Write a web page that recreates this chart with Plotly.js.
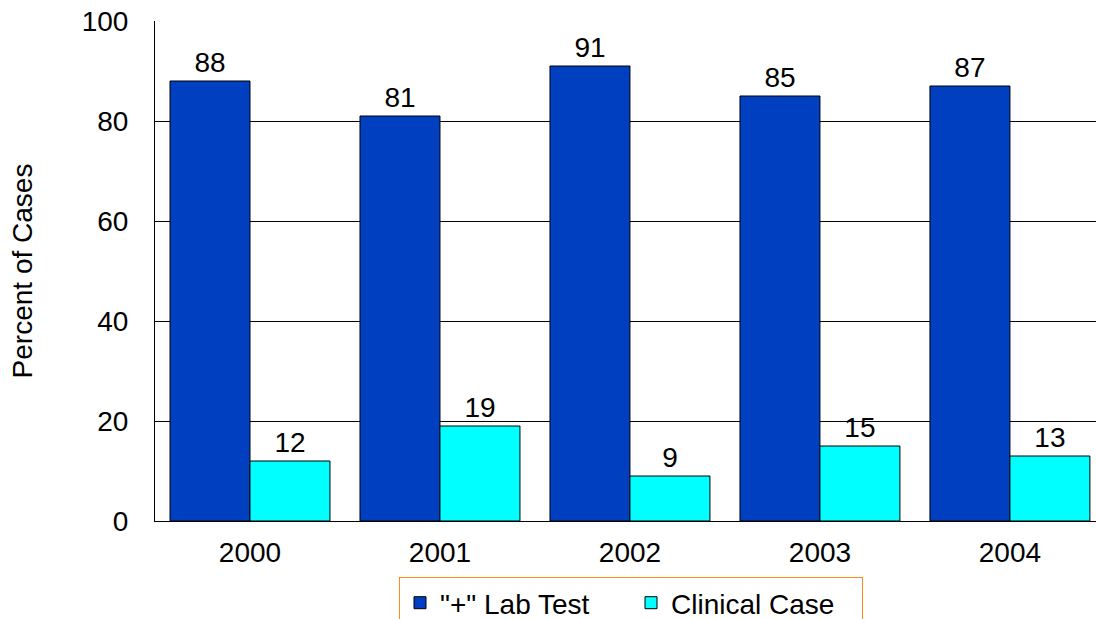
<!DOCTYPE html>
<html>
<head>
<meta charset="utf-8">
<script src="https://cdn.plot.ly/plotly-3.0.1.min.js"></script>
<style>
  html, body { margin: 0; padding: 0; overflow: hidden; background: #fff; }
</style>
</head>
<body>
<div id="chart"></div>
<script>
const years = ['2000', '2001', '2002', '2003', '2004'];
const labTest = [88, 81, 91, 85, 87];
const clinicalCase = [12, 19, 9, 15, 13];
const yTicks = [0, 20, 40, 60, 80, 100];

const font = 'Liberation Sans, Arial, sans-serif';

function barTrace(name, values, color) {
    return {
        type: 'bar',
        name: name,
        x: years,
        y: values,
        text: values.map(String),
        textposition: 'outside',
        cliponaxis: false,
        textfont: { family: font, size: 28, color: '#000' },
        marker: { color: color, line: { color: '#000', width: 1 } }
    };
}

const data = [
    barTrace('"+" Lab Test', labTest, '#0040C0'),
    barTrace('Clinical Case', clinicalCase, '#00FFFF')
];

// last category is cut by the right edge of the picture
const layout = {
    width: 1096,
    height: 619,
    margin: { l: 155, r: 0, t: 21, b: 98, autoexpand: false },
    paper_bgcolor: '#fff',
    plot_bgcolor: '#fff',
    font: { family: font, size: 28, color: '#000' },
    barmode: 'group',
    bargap: 0.158,
    bargroupgap: 0,
    showlegend: true,
    legend: {
        orientation: 'h',
        x: 0.2593, xanchor: 'left',
        y: -0.112, yanchor: 'top',
        bordercolor: '#FF8C1A',
        borderwidth: 1,
        font: { family: font, size: 28, color: '#000' },
        itemwidth: 30,
        entrywidth: 186,
        tracegroupgap: 0
    },
    xaxis: {
        type: 'category',
        range: [-0.5, 4.453],
        showgrid: false,
        showline: true,
        linecolor: '#000',
        linewidth: 1,
        ticks: '',
        ticklabelstandoff: 6,
        tickfont: { family: font, size: 28 }
    },
    yaxis: {
        range: [0, 100],
        tickvals: yTicks,
        showgrid: true,
        gridcolor: '#000',
        gridwidth: 1,
        showline: true,
        linecolor: '#000',
        linewidth: 1,
        zeroline: false,
        ticks: '',
        ticklabelstandoff: 20,
        tickfont: { family: font, size: 28 },
        title: { text: 'Percent of Cases', font: { family: font, size: 28 }, standoff: 40 }
    }
};

Plotly.newPlot('chart', data, layout, { displayModeBar: false, staticPlot: true });
</script>
</body>
</html>
